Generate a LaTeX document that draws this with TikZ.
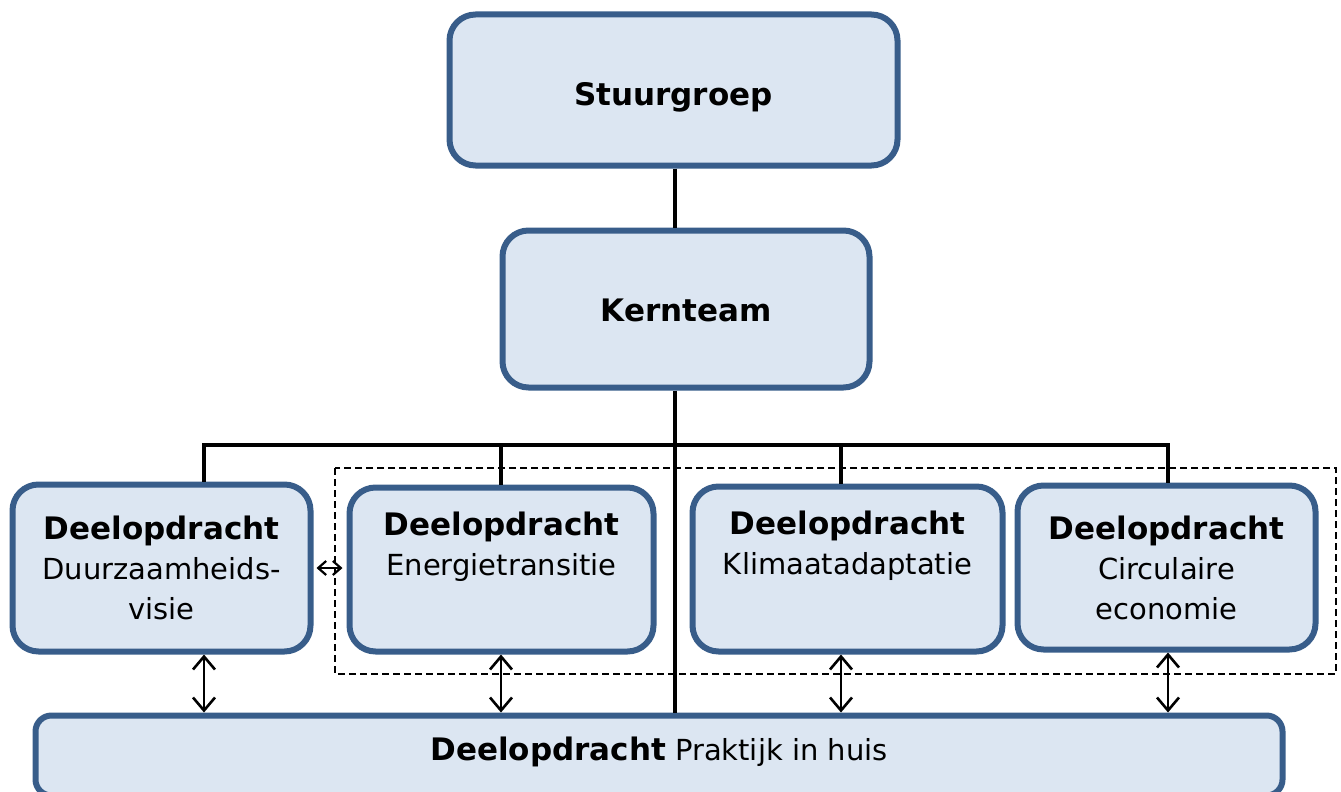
\documentclass[tikz,border=0pt]{standalone}
\usepackage{fontspec}
\setmainfont{DejaVu Sans}
\usetikzlibrary{arrows.meta, positioning}

\definecolor{boxline}{HTML}{385D8A}
\definecolor{boxfill}{HTML}{DCE6F2}
\newcommand{\kop}[1]{{\fontsize{31}{40}\selectfont\bfseries #1}}

\tikzset{
  orgbox/.style={draw=boxline, fill=boxfill, line width=6pt, rounded corners=26pt,
    inner sep=0pt, align=center, font=\fontsize{29}{40}\selectfont},
  tak/.style={line width=3.6pt},
  wissel/.style={{Straight Barb[length=13pt,width=22pt]}-{Straight Barb[length=13pt,width=22pt]}, line width=2.6pt},
  kort/.style={{Straight Barb[length=8pt,width=14pt]}-{Straight Barb[length=8pt,width=14pt]}, line width=2.2pt,
    shorten <=3pt, shorten >=4pt},
}

\begin{document}
\begin{tikzpicture}[x=1pt, y=-1pt]
    \useasboundingbox (0,0) rectangle (1341,792);
    \clip (0,0) rectangle (1341,792);

    % kader om de drie deelopdrachten
    \draw[line width=1.8pt, dash pattern=on 7pt off 4pt] (335,468) rectangle (1336,674);

    \node[orgbox, minimum width=448pt, text height=90.5pt, text depth=60.5pt](stuur) at (673.5,90){\kop{Stuurgroep}};
    \node[orgbox, minimum width=367pt, text height=90.5pt, text depth=66.5pt](kern) at (686,309){\kop{Kernteam}};

    \node[orgbox, minimum width=298pt, minimum height=167pt](d1) at (161.5,568){\kop{Deelopdracht}\\Duurzaamheids-\\visie};
    \node[orgbox, minimum width=304pt, minimum height=164pt](d2) at (501.5,569.5){\kop{Deelopdracht}\\Energietransitie\\\strut};
    \node[orgbox, minimum width=310pt, minimum height=165pt](d3) at (847.5,569){\kop{Deelopdracht}\\Klimaatadaptatie\\\strut};
    \node[orgbox, minimum width=298pt, minimum height=164pt](d4) at (1166.5,567.5){\kop{Deelopdracht}\\Circulaire\\economie};

    \node[orgbox, rounded corners=16pt, minimum width=1247pt, text height=44.5pt, text depth=35.5pt](praktijk) at (659,755.5){\kop{Deelopdracht} Praktijk in huis};

    \coordinate (hub) at (675,445);
    \coordinate (t1) at (204,445);
    \coordinate (t2) at (501,445);
    \coordinate (t3) at (841,445);
    \coordinate (t4) at (1168,445);

    \draw[tak] (hub |- stuur.south) -- (hub |- kern.north);
    \draw[tak] (hub |- kern.south) -- (hub |- praktijk.north);
    \draw[tak] (t1 |- d1.north) -- (t1) -- (t4) -- (t4 |- d4.north);
    \draw[tak] (t2) -- (t2 |- d2.north);
    \draw[tak] (t3) -- (t3 |- d3.north);

    \foreach \i in {1,...,4}
        \draw[wissel] (t\i |- d\i.south) -- (t\i |- praktijk.north);

    \draw[kort] (d1.east) -- (d1.east -| d2.west);
\end{tikzpicture}
\end{document}
